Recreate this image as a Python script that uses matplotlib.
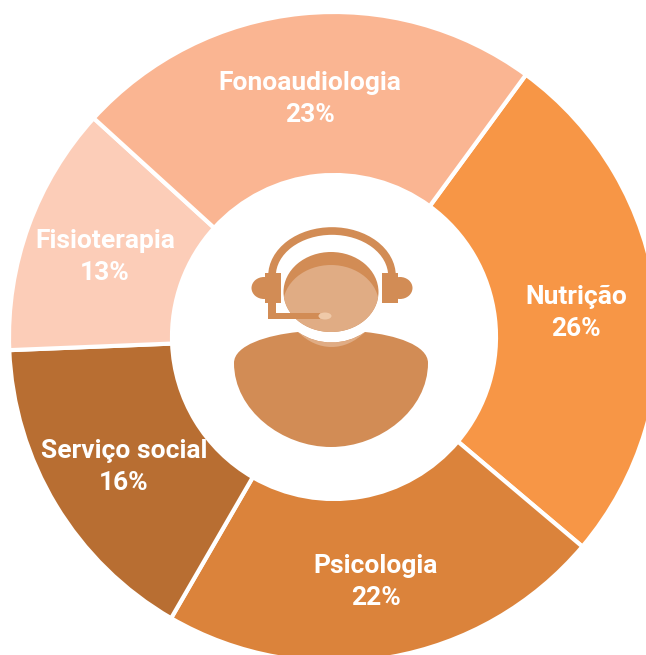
import matplotlib
matplotlib.use("Agg")
import matplotlib.pyplot as plt
from matplotlib.patches import Ellipse, Arc, PathPatch, Rectangle
from matplotlib.path import Path

LABELS = ["Nutrição", "Psicologia", "Serviço social", "Fisioterapia", "Fonoaudiologia"]
PERCENTS = [26, 22, 16, 13, 23]
# arc sizes as measured on the picture, the printed labels are rounded
ARC_SHARES = [26.1, 22.2, 16.0, 12.4, 23.3]
COLORS = ["#F79646", "#DB833B", "#B86E32", "#FCCDB8", "#FAB592"]
LABEL_XY = [(576, 313), (376, 582), (124, 467), (105, 257), (310, 99)]

W, H = 646, 655
CX, CY = 334, 337
R_OUT, R_IN = 325, 162
START = 53.8
ICON = "#D28C55"
FACE = "#E0AC84"


def fy(y):
    # picture coordinates run downwards, the axes upwards
    return H - y


def curve(ax, points, color):
    codes = [Path.MOVETO] + [Path.CURVE4] * (len(points) - 1)
    verts = [(x, fy(y)) for x, y in points]
    ax.add_patch(PathPatch(Path(verts, codes), facecolor=color, edgecolor="none", zorder=3))


def draw_icon(ax):
    # body, with the notch under the chin
    curve(ax, [
        (298, 332),
        (318, 346), (345, 346), (365, 332),
        (395, 335), (428, 345), (428, 363),
        (428, 410), (380, 447), (331, 447),
        (282, 447), (234, 410), (234, 363),
        (234, 345), (268, 335), (298, 332),
    ], ICON)
    # light band under the neck gap
    curve(ax, [
        (298, 332),
        (318, 352), (345, 352), (365, 332),
        (345, 346), (318, 346), (298, 332),
    ], FACE)

    # head: dark crown with the lighter face over it
    head = Ellipse((331, fy(292)), 95, 80, facecolor=ICON, edgecolor="none", zorder=3)
    ax.add_patch(head)
    face = Ellipse((331, fy(305)), 96, 80, facecolor=FACE, edgecolor="none", zorder=4)
    ax.add_patch(face)
    face.set_clip_path(head)

    # headband and ear pieces
    ax.add_patch(Arc((332, fy(276)), 120, 90, theta1=0, theta2=180, color=ICON, lw=5.5, zorder=3))
    ax.add_patch(Ellipse((264, fy(288)), 25, 22, facecolor=ICON, edgecolor="none", zorder=3))
    ax.add_patch(Ellipse((400, fy(288)), 25, 22, facecolor=ICON, edgecolor="none", zorder=3))
    ax.add_patch(Rectangle((265, fy(303)), 16, 30, facecolor=ICON, edgecolor="none", zorder=3))
    ax.add_patch(Rectangle((382, fy(303)), 16, 30, facecolor=ICON, edgecolor="none", zorder=3))

    # microphone arm
    ax.add_patch(Rectangle((268, fy(319)), 8, 19, facecolor=ICON, edgecolor="none", zorder=5))
    ax.add_patch(Rectangle((268, fy(319)), 52, 6, facecolor=ICON, edgecolor="none", zorder=5))
    ax.add_patch(Ellipse((325, fy(316)), 13, 7, facecolor="#EFC9A8", edgecolor="none", zorder=5))


fig = plt.figure(figsize=(W / 100, H / 100), dpi=100)
ax = fig.add_axes([0, 0, 1, 1])

ax.pie(
    ARC_SHARES,
    colors=COLORS,
    startangle=START,
    counterclock=False,
    center=(CX, fy(CY)),
    radius=R_OUT,
    wedgeprops=dict(width=R_OUT - R_IN, edgecolor="white", linewidth=3),
    frame=True,
)
ax.set_xlim(0, W)
ax.set_ylim(0, H)
ax.set_aspect("equal")
ax.axis("off")

for lab, val, (x, y) in zip(LABELS, PERCENTS, LABEL_XY):
    ax.text(x, fy(y), f"{lab}\n{val}%", color="white", fontsize=19, fontweight="bold",
            ha="center", va="center", family="Roboto", linespacing=1.38, zorder=6)

draw_icon(ax)

fig.savefig("out.png", dpi=100)
